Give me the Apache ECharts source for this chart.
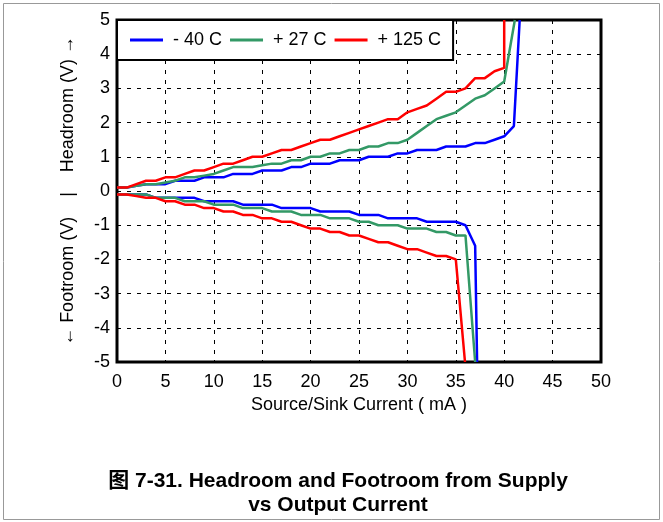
<!DOCTYPE html>
<html>
<head>
<meta charset="utf-8">
<script src="https://cdn.jsdelivr.net/npm/echarts@6/dist/echarts.min.js"></script>
<style>
  html, body { margin: 0; padding: 0; background: #fff; }
  #chart { width: 663px; height: 522px; }
</style>
</head>
<body>
<div id="chart"></div>
<script>
  // series names
  const names = ['- 40 C', '+ 27 C', '+ 125 C']
  const colors = ['#0000ff', '#339966', '#ff0000']

  // headroom, -40 C
  const headX_m40 = [0,1,2,3,4,5,6,7,8,9,10,11,12,13,14,15,16,17,18,19,20,21,22,23,24,25,26,27,28,29,30,31,32,33,34,35,36,37,38,39,40,41,41.6]
  const headY_m40 = [0.1,0.1,0.15,0.2,0.2,0.2,0.3,0.3,0.3,0.4,0.4,0.4,0.5,0.5,0.5,0.6,0.6,0.6,0.7,0.7,0.8,0.8,0.8,0.9,0.9,0.9,1.0,1.0,1.0,1.1,1.1,1.2,1.2,1.2,1.3,1.3,1.3,1.4,1.4,1.5,1.6,1.9,5]
  // headroom, +27 C
  const headX_27 = [0,1,2,3,4,5,6,7,8,9,10,11,12,13,14,15,16,17,18,19,20,21,22,23,24,25,26,27,28,29,30,31,32,33,34,35,36,37,38,39,40,41.1]
  const headY_27 = [0.1,0.1,0.15,0.2,0.2,0.25,0.3,0.4,0.4,0.45,0.5,0.6,0.7,0.7,0.7,0.75,0.8,0.8,0.9,0.9,1.0,1.0,1.1,1.1,1.2,1.2,1.3,1.3,1.4,1.4,1.5,1.7,1.9,2.1,2.2,2.3,2.5,2.7,2.8,3.0,3.2,5]
  // headroom, +125 C
  const headX_125 = [0,1,2,3,4,5,6,7,8,9,10,11,12,13,14,15,16,17,18,19,20,21,22,23,24,25,26,27,28,29,30,31,32,33,34,35,36,37,38,39,40,40]
  const headY_125 = [0.1,0.1,0.2,0.3,0.3,0.4,0.4,0.5,0.6,0.6,0.7,0.8,0.8,0.9,1.0,1.0,1.1,1.2,1.2,1.3,1.4,1.5,1.5,1.6,1.7,1.8,1.9,2.0,2.1,2.1,2.3,2.4,2.5,2.7,2.9,2.9,3.0,3.3,3.3,3.5,3.6,5]

  // footroom, -40 C
  const footX_m40 = [0,1,2,3,4,5,6,7,8,9,10,11,12,13,14,15,16,17,18,19,20,21,22,23,24,25,26,27,28,29,30,31,32,33,34,35,36,37,37.2]
  const footY_m40 = [-0.1,-0.1,-0.1,-0.1,-0.2,-0.2,-0.2,-0.2,-0.2,-0.3,-0.3,-0.3,-0.3,-0.4,-0.4,-0.4,-0.4,-0.5,-0.5,-0.5,-0.5,-0.6,-0.6,-0.6,-0.6,-0.7,-0.7,-0.7,-0.8,-0.8,-0.8,-0.8,-0.9,-0.9,-0.9,-0.9,-1.0,-1.6,-5]
  // footroom, +27 C
  const footX_27 = [0,1,2,3,4,5,6,7,8,9,10,11,12,13,14,15,16,17,18,19,20,21,22,23,24,25,26,27,28,29,30,31,32,33,34,35,36,37]
  const footY_27 = [-0.1,-0.1,-0.1,-0.1,-0.2,-0.2,-0.2,-0.3,-0.3,-0.3,-0.4,-0.4,-0.4,-0.5,-0.5,-0.5,-0.6,-0.6,-0.6,-0.7,-0.7,-0.7,-0.8,-0.8,-0.8,-0.9,-0.9,-1.0,-1.0,-1.0,-1.1,-1.1,-1.1,-1.2,-1.2,-1.3,-1.3,-5]
  // footroom, +125 C
  const footX_125 = [0,1,2,3,4,5,6,7,8,9,10,11,12,13,14,15,16,17,18,19,20,21,22,23,24,25,26,27,28,29,30,31,32,33,34,35,35.95]
  const footY_125 = [-0.1,-0.1,-0.15,-0.2,-0.2,-0.3,-0.3,-0.4,-0.4,-0.5,-0.5,-0.6,-0.6,-0.7,-0.7,-0.8,-0.8,-0.9,-0.9,-1.0,-1.1,-1.1,-1.2,-1.2,-1.3,-1.3,-1.4,-1.5,-1.5,-1.6,-1.7,-1.7,-1.8,-1.9,-1.9,-2.0,-5]

  const xTicks = [0, 50, 5]   // min, max, step
  const yTicks = [-5, 5, 1]

  const zip = (xs, ys) => xs.map((x, i) => [x, ys[i]])
  const branches = [
    [0, headX_m40, headY_m40], [1, headX_27, headY_27], [2, headX_125, headY_125],
    [0, footX_m40, footY_m40], [1, footX_27, footY_27], [2, footX_125, footY_125]
  ]

  const font = '"Liberation Sans", Arial, "Noto Sans CJK SC", sans-serif'
  let myChart = echarts.init(document.getElementById('chart'))

  let option = {
    animation: false,
    textStyle: { fontFamily: font },
    title: {
      text: '图 7-31. Headroom and Footroom from Supply\nvs Output Current',
      left: 338,
      top: 469,
      padding: 0,
      textAlign: 'center',
      textStyle: { fontFamily: font, fontSize: 21, fontWeight: 'bold', color: '#000', lineHeight: 24 }
    },
    legend: {
      data: names,
      left: 117,
      top: 20,
      padding: [11, 12, 11, 13],
      itemGap: 8,
      itemWidth: 33,
      itemHeight: 3,
      icon: 'rect',
      backgroundColor: '#fff',
      borderColor: '#000',
      borderWidth: 2,
      borderRadius: 0,
      textStyle: { fontFamily: font, fontSize: 18, color: '#000', padding: [0, 0, 0, 5] }
    },
    grid: {
      left: 117, right: 62, top: 20, bottom: 160,
      show: true, borderColor: '#000', borderWidth: 3
    },
    xAxis: {
      type: 'value',
      min: xTicks[0], max: xTicks[1], interval: xTicks[2],
      name: 'Source/Sink Current ( mA )',
      nameLocation: 'middle',
      nameGap: 34,
      nameTextStyle: { fontFamily: font, fontSize: 18, color: '#000' },
      axisLine: { show: false },
      axisTick: { show: false },
      axisLabel: { fontFamily: font, fontSize: 18, color: '#000', margin: 11 },
      splitLine: { show: true, lineStyle: { color: '#000', width: 1, type: [4, 6] } }
    },
    yAxis: {
      type: 'value',
      min: yTicks[0], max: yTicks[1], interval: yTicks[2],
      name: '← Footroom (V)    |    Headroom (V) →',
      nameLocation: 'middle',
      nameRotate: 90,
      nameGap: 40,
      nameTextStyle: { fontFamily: font, fontSize: 18, color: '#000' },
      axisLine: { show: false },
      axisTick: { show: false },
      axisLabel: { fontFamily: font, fontSize: 18, color: '#000', margin: 7 },
      splitLine: { show: true, lineStyle: { color: '#000', width: 1, type: [4, 6] } }
    },
    graphic: [{
      type: 'rect',
      shape: { x: 3.5, y: 3.5, width: 656, height: 516 },
      style: { fill: 'none', stroke: '#999', lineWidth: 1 },
      silent: true
    }],
    series: branches.map(([k, xs, ys]) => ({
      name: names[k],
      type: 'line',
      data: zip(xs, ys),
      symbol: 'none',
      clip: true,
      lineStyle: { color: colors[k], width: 2.5 },
      itemStyle: { color: colors[k] }
    }))
  }
  myChart.setOption(option)
</script>
</body>
</html>
